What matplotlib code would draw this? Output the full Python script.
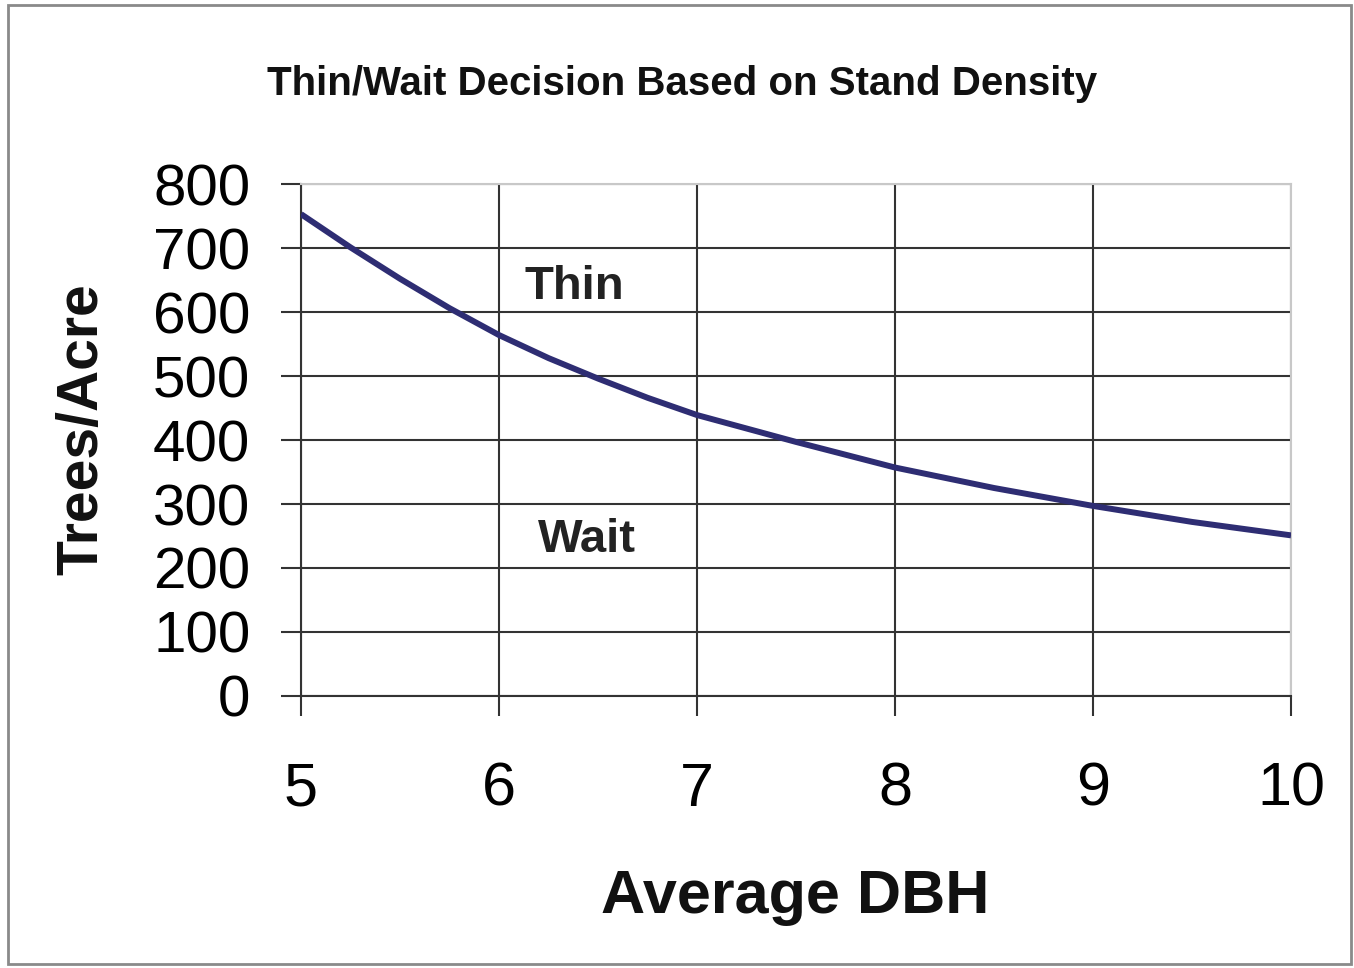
import matplotlib.pyplot as plt
from matplotlib.patches import Rectangle

# values
dbh = [5, 5.25, 5.5, 5.75, 6, 6.25, 6.5, 6.75, 7, 7.5, 8, 8.5, 9, 9.5, 10]
trees_per_acre = [753, 701, 652, 606, 564, 528, 496, 466, 439, 397, 357, 325, 297, 272, 251]

x_ticks = [5, 6, 7, 8, 9, 10]
y_ticks = [0, 100, 200, 300, 400, 500, 600, 700, 800]

plt.rcParams['font.family'] = ['Liberation Sans', 'DejaVu Sans']

fig = plt.figure(figsize=(13.54, 9.68), dpi=100)
ax = fig.add_axes([0.2223, 0.2810, 0.7312, 0.5289])

gridColor = '#333333'
ax.plot(dbh, trees_per_acre, color='#2e2d73', lw=4.3, solid_capstyle='butt',
	solid_joinstyle='round', zorder=3)

ax.set_xlim(5, 10)
ax.set_ylim(0, 800)
ax.set_xticks(x_ticks)
ax.set_yticks(y_ticks)
ax.grid(True, color=gridColor, lw=1.5)

for s in ['left', 'bottom']:
	ax.spines[s].set_color(gridColor)
	ax.spines[s].set_linewidth(1.5)
for s in ['top', 'right']:
	ax.spines[s].set_color('#c8c8c8')
	ax.spines[s].set_linewidth(1.5)

ax.tick_params(axis='x', length=14.5, width=1.5, color=gridColor, pad=33, labelsize=44)
ax.tick_params(axis='y', length=14.5, width=1.5, color=gridColor, pad=22, labelsize=42)

ax.text(6.131, 620, 'Thin', fontsize=34, fontweight='bold', color='#222222', va='baseline', ha='left')
ax.text(6.197, 225, 'Wait', fontsize=34, fontweight='bold', color='#222222', va='baseline', ha='left')

fig.text(0.504, 0.9019, 'Thin/Wait Decision Based on Stand Density', fontsize=29,
	fontweight='bold', color='#111111', ha='center', va='baseline')
fig.text(0.0606, 0.557, 'Trees/Acre', fontsize=41, fontweight='bold', rotation=90,
	ha='center', va='center', color='#111111')
fig.text(0.587, 0.0568, 'Average DBH', fontsize=44, fontweight='bold',
	ha='center', va='baseline', color='#111111')

# outer frame around the whole chart
fig.patches.append(Rectangle((0.006, 0.004), 0.992, 0.991, transform=fig.transFigure,
	fill=False, edgecolor='#8a8a8a', lw=2))

fig.savefig('out.png', dpi=100)
